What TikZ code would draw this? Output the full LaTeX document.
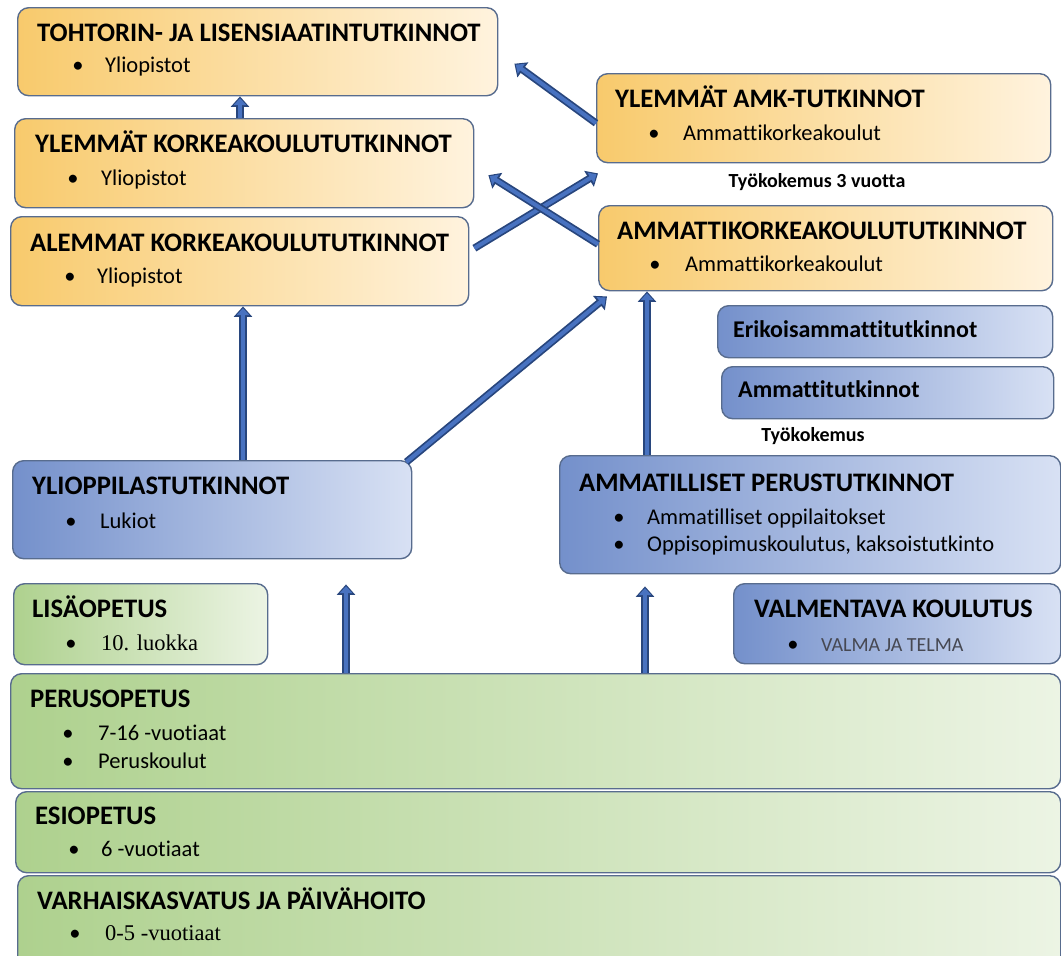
\documentclass[tikz,border=0pt]{standalone}
\usepackage{fontspec}
\setmainfont[Ligatures={NoCommon}]{Carlito}
\newfontfamily\timesf{Liberation Serif}
\usetikzlibrary{arrows.meta}
\definecolor{oL}{RGB}{248,202,108}
\definecolor{oR}{RGB}{255,243,222}
\definecolor{bL}{RGB}{116,144,203}
\definecolor{bR}{RGB}{216,225,244}
\definecolor{gL}{RGB}{174,209,142}
\definecolor{gR}{RGB}{236,244,228}
\definecolor{bord}{RGB}{88,108,142}
\definecolor{adark}{RGB}{40,70,125}
\definecolor{amid}{RGB}{72,114,192}
\definecolor{greytxt}{RGB}{70,72,82}
\newcommand\ttlfont{\fontsize{26.7}{30}\selectfont\bfseries}
\newcommand\txtfont{\fontsize{22.5}{26}\selectfont}
\newcommand\smbfont{\fontsize{20}{23}\selectfont\bfseries}
\newcommand\midbfont{\fontsize{24}{28}\selectfont\bfseries}
\newcommand\barrow[3][0pt]{%
  \draw[arrout, shorten >=#1] #2 -- #3;
  \draw[arrin, shorten >=#1+1.8pt] #2 -- #3;}
\begin{document}
\begin{tikzpicture}[x=1pt,y=-1pt,
  box/.style={draw=bord, line width=1.4pt, rounded corners=11pt, anchor=north west, inner sep=0pt},
  obox/.style={box, left color=oL, right color=oR},
  bbox/.style={box, left color=bL, right color=bR},
  gbox/.style={box, left color=gL, right color=gR},
  ttl/.style={anchor=mid west, inner sep=0pt, font=\ttlfont},
  txt/.style={anchor=mid west, inner sep=0pt, font=\txtfont},
  bul/.style={anchor=mid, inner sep=0pt, font=\txtfont},
  arrout/.style={line width=7.5pt, draw=adark, -{Triangle[width=18pt,length=10.5pt]}},
  arrin/.style={line width=4pt, draw=amid, -{Triangle[width=12pt,length=6.8pt]}}]
\path[use as bounding box] (0,0) rectangle (1061,956);
% boxes
\node[obox, minimum width=480pt, minimum height=88pt] (b1) at (17,7) {};
\node[obox, minimum width=459pt, minimum height=89pt] (b2) at (14,118) {};
\node[obox, minimum width=458pt, minimum height=89pt] (b3) at (10,216) {};
\node[obox, minimum width=454pt, minimum height=89pt] (b4) at (596,73) {};
\node[obox, minimum width=454pt, minimum height=85pt] (b5) at (598,205) {};
\node[bbox, minimum width=335pt, minimum height=52pt] (er) at (717,305) {};
\node[bbox, minimum width=332pt, minimum height=52pt] (at) at (721,366) {};
\node[bbox, minimum width=399pt, minimum height=98pt] (yl) at (12,460) {};
\node[bbox, minimum width=501pt, minimum height=118pt] (am) at (559,455) {};
\node[gbox, minimum width=254pt, minimum height=81pt] (li) at (13,583) {};
\node[bbox, minimum width=327pt, minimum height=80pt] (va) at (733,583) {};
\node[gbox, minimum width=1050pt, minimum height=115pt] (pe) at (10,673) {};
\node[gbox, minimum width=1045pt, minimum height=81pt] (es) at (15,791) {};
\node[gbox, minimum width=1043pt, minimum height=95pt] (vh) at (17,875) {};
% texts
\node[ttl] (t1) at (37,39) {TOHTORIN- JA LISENSIAATINTUTKINNOT};
\node[bul] (d1) at (78,70) {•};
\node[txt] (s1) at (105,70) {Yliopistot};
\node[ttl] (t2) at (35,150) {YLEMMÄT KORKEAKOULUTUTKINNOT};
\node[bul] (d2) at (73,183) {•};
\node[txt] (s2) at (101,183) {Yliopistot};
\node[ttl] (t3) at (30,249) {ALEMMAT KORKEAKOULUTUTKINNOT};
\node[bul] (d3) at (70,281) {•};
\node[txt] (s3) at (97,281) {Yliopistot};
\node[ttl] (t4) at (615,105) {YLEMMÄT AMK-TUTKINNOT};
\node[bul] (d4) at (654,138) {•};
\node[txt] (s4) at (683,138) {Ammattikorkeakoulut};
\node[anchor=mid, inner sep=0pt, font=\smbfont] (tk3) at (817,185) {Työkokemus 3 vuotta};
\node[ttl] (t5) at (617,237) {AMMATTIKORKEAKOULUTUTKINNOT};
\node[bul] (d5) at (655,269) {•};
\node[txt] (s5) at (685,269) {Ammattikorkeakoulut};
\node[anchor=mid west, inner sep=0pt, font=\midbfont] (ter) at (733,335) {Erikoisammattitutkinnot};
\node[anchor=mid west, inner sep=0pt, font=\midbfont] (tat) at (738,395) {Ammattitutkinnot};
\node[anchor=mid, inner sep=0pt, font=\smbfont] (tk) at (813,439) {Työkokemus};
\node[ttl] (t6) at (32,492) {YLIOPPILASTUTKINNOT};
\node[bul] (d6) at (71,526) {•};
\node[txt] (s6) at (100,526) {Lukiot};
\node[ttl] (t7) at (579,489) {AMMATILLISET PERUSTUTKINNOT};
\node[bul] (d7a) at (619,522) {•};
\node[txt] (s7a) at (647,522) {Ammatilliset oppilaitokset};
\node[bul] (d7b) at (619,549) {•};
\node[txt] (s7b) at (647,549) {Oppisopimuskoulutus, kaksoistutkinto};
\node[ttl] (t8) at (32,615) {LISÄOPETUS};
\node[bul] (d8) at (71,648) {•};
\node[txt, font=\txtfont\timesf] (s8) at (101,648) {10. luokka};
\node[ttl] (t9) at (754,615) {VALMENTAVA KOULUTUS};
\node[bul] (d9) at (793,649) {•};
\node[txt, text=greytxt, font=\fontsize{20}{24}\selectfont] (s9) at (821,649) {VALMA JA TELMA};
\node[ttl] (t10) at (30,705) {PERUSOPETUS};
\node[bul] (d10a) at (68,738) {•};
\node[txt] (s10a) at (98,738) {7-16 -vuotiaat};
\node[bul] (d10b) at (68,766) {•};
\node[txt] (s10b) at (98,766) {Peruskoulut};
\node[ttl] (t11) at (35,822) {ESIOPETUS};
\node[bul] (d11) at (74,854) {•};
\node[txt] (s11) at (101,854) {6 -vuotiaat};
\node[ttl] (t12) at (37,907) {VARHAISKASVATUS JA PÄIVÄHOITO};
\node[bul] (d12) at (75,938) {•};
\node[txt, font=\txtfont\timesf] (s12) at (105,938) {0-5 -vuotiaat};
% arrows
\coordinate (x1) at (240,0);
\coordinate (x5) at (243,0);
\coordinate (x7) at (647,0);
\coordinate (x8) at (346,0);
\coordinate (x9) at (645,0);
\barrow{(x1 |- b2.north)}{(x1 |- b1.south)}
\barrow{([yshift=-5pt]b4.west)}{([xshift=16pt,yshift=-12pt]b1.east)}
\barrow{([xshift=5pt,yshift=13pt]b3.east)}{([xshift=2pt,yshift=-10pt]b4.south west)}
\barrow{([yshift=4pt]b5.west)}{([xshift=14pt,yshift=-12pt]b2.east)}
\barrow{(x5 |- yl.north)}{(x5 |- b3.south)}
\barrow{([xshift=-6pt,yshift=-2pt]yl.north east)}{([xshift=9pt,yshift=-5pt]b5.south west)}
\barrow{(x7 |- am.north)}{(x7 |- b5.south)}
\barrow[25pt]{(x8 |- pe.north)}{(x8 |- yl.south)}
\barrow[12pt]{(x9 |- pe.north)}{(x9 |- am.south)}
\end{tikzpicture}
\end{document}
